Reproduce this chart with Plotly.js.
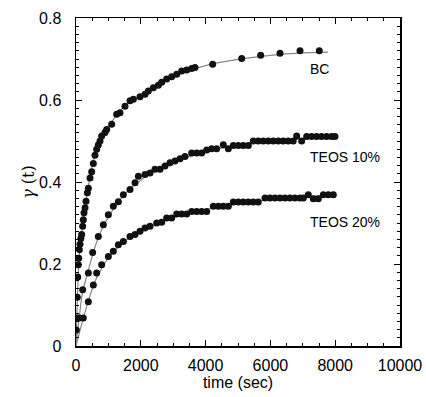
<!DOCTYPE html>
<html>
<head>
<meta charset="utf-8">
<script src="https://cdn.plot.ly/plotly-3.0.1.min.js"></script>
<style>html,body{margin:0;padding:0;background:#fff;}#chart{width:426px;height:397px;}</style>
</head>
<body>
<div id="chart"></div>
<script>
// ---- data ----
const bcTime = [10, 25, 40, 55, 72, 85, 103, 123, 150, 175, 206, 226, 247, 278, 309, 350, 381, 432, 484, 535, 586, 638, 689, 741, 792, 895, 947, 1101, 1255, 1358, 1512, 1667, 1770, 1975, 2130, 2233, 2387, 2541, 2644, 2798, 2952, 3107, 3261, 3416, 3570, 3673, 4218, 5114, 5700, 6296, 6914, 7509];
const bcGamma = [0.039, 0.068, 0.119, 0.168, 0.198, 0.214, 0.235, 0.248, 0.262, 0.272, 0.292, 0.308, 0.325, 0.337, 0.353, 0.374, 0.385, 0.410, 0.425, 0.445, 0.465, 0.480, 0.490, 0.500, 0.512, 0.521, 0.528, 0.541, 0.565, 0.569, 0.585, 0.598, 0.602, 0.608, 0.614, 0.622, 0.630, 0.636, 0.643, 0.651, 0.657, 0.663, 0.671, 0.673, 0.677, 0.679, 0.687, 0.701, 0.709, 0.714, 0.720, 0.720];

const t10Time = [100, 206, 381, 514, 689, 844, 998, 1152, 1307, 1461, 1667, 1821, 1924, 2130, 2284, 2438, 2593, 2747, 2901, 3056, 3210, 3364, 3570, 3725, 3879, 4033, 4187, 4341, 4547, 4702, 4856, 5010, 5164, 5318, 5472, 5626, 5780, 5934, 6088, 6242, 6396, 6550, 6704, 6811, 6965, 7119, 7273, 7427, 7581, 7735, 7889, 7994];
const t10Gamma = [0.068, 0.137, 0.178, 0.228, 0.267, 0.296, 0.320, 0.341, 0.352, 0.369, 0.382, 0.398, 0.414, 0.418, 0.422, 0.431, 0.431, 0.439, 0.447, 0.451, 0.457, 0.462, 0.471, 0.471, 0.471, 0.478, 0.481, 0.481, 0.491, 0.481, 0.489, 0.489, 0.489, 0.489, 0.500, 0.500, 0.500, 0.500, 0.500, 0.500, 0.500, 0.500, 0.500, 0.512, 0.500, 0.511, 0.511, 0.511, 0.511, 0.511, 0.511, 0.511];

const t20Time = [226, 381, 535, 638, 792, 998, 1152, 1307, 1461, 1667, 1821, 1975, 2130, 2284, 2490, 2644, 2798, 2952, 3107, 3261, 3416, 3570, 3725, 3879, 4033, 4239, 4393, 4547, 4702, 4856, 5010, 5164, 5318, 5472, 5626, 5833, 5987, 6141, 6295, 6449, 6603, 6757, 6911, 7016, 7170, 7325, 7478, 7633, 7788, 7942];
const t20Gamma = [0.068, 0.108, 0.149, 0.178, 0.198, 0.218, 0.231, 0.247, 0.255, 0.267, 0.272, 0.280, 0.288, 0.292, 0.300, 0.302, 0.312, 0.312, 0.322, 0.322, 0.322, 0.328, 0.328, 0.328, 0.328, 0.341, 0.341, 0.341, 0.341, 0.351, 0.351, 0.351, 0.351, 0.351, 0.351, 0.361, 0.361, 0.361, 0.361, 0.361, 0.361, 0.361, 0.361, 0.361, 0.369, 0.359, 0.359, 0.369, 0.369, 0.369];

// fitted curves
const bcFitTime = [0, 25, 50, 100, 200, 300, 500, 750, 1000, 1500, 2000, 2500, 3000, 4000, 5000, 6000, 7000, 7780];
const bcFitGamma = [0, 0.07, 0.13, 0.22, 0.29, 0.35, 0.44, 0.50, 0.535, 0.585, 0.612, 0.636, 0.657, 0.684, 0.699, 0.709, 0.715, 0.717];
const t10FitTime = [0, 100, 200, 400, 600, 800, 1000, 1500, 2000, 2500, 3000, 4000, 5000, 6000, 7000, 8000];
const t10FitGamma = [0, 0.07, 0.13, 0.19, 0.245, 0.285, 0.315, 0.37, 0.405, 0.43, 0.448, 0.474, 0.490, 0.500, 0.506, 0.510];
const t20FitTime = [0, 200, 400, 600, 800, 1000, 1500, 2000, 2500, 3000, 4000, 5000, 6000, 7000, 8000];
const t20FitGamma = [0, 0.06, 0.115, 0.16, 0.19, 0.215, 0.255, 0.28, 0.298, 0.313, 0.333, 0.347, 0.357, 0.364, 0.368];

const seriesLabels = ["BC", "TEOS 10%", "TEOS 20%"];
const labelTime = [7160, 7160, 7160];
const labelGamma = [0.675, 0.46, 0.303];

const xTickVals = [0, 2000, 4000, 6000, 8000, 10000];
const xTickText = ['0', '2000', '4000', '6000', '8000', '10000'];
const yTickVals = [0, 0.2, 0.4, 0.6, 0.8];
const yTickText = ['0', '0.2', '0.4', '0.6', '0.8'];

const fitStyle = {color: '#888', width: 1.2, shape: 'spline', smoothing: 0.8};
const markerStyle = {color: '#111', size: 7, symbol: 'circle'};

const traces = [
  {x: bcFitTime, y: bcFitGamma, mode: 'lines', line: fitStyle},
  {x: t10FitTime, y: t10FitGamma, mode: 'lines', line: fitStyle},
  {x: t20FitTime, y: t20FitGamma, mode: 'lines', line: fitStyle},
  {x: bcTime, y: bcGamma, mode: 'markers', marker: markerStyle},
  {x: t10Time, y: t10Gamma, mode: 'markers', marker: markerStyle},
  {x: t20Time, y: t20Gamma, mode: 'markers', marker: markerStyle}
];

const fontFam = 'Liberation Sans, Arial, sans-serif';
const layout = {
  width: 426, height: 397,
  margin: {l: 76, r: 26, t: 18, b: 51},
  paper_bgcolor: '#fff', plot_bgcolor: '#fff',
  showlegend: false,
  font: {family: fontFam, color: '#000', size: 16},
  xaxis: {
    range: [0, 10000], tickvals: xTickVals, ticktext: xTickText,
    ticks: 'inside', ticklen: 6, tickcolor: '#000', tickwidth: 1,
    minor: {dtick: 500, ticks: 'inside', ticklen: 3, tickcolor: '#000'},
    showline: true, linecolor: '#000', linewidth: 1.5, mirror: 'allticks',
    showgrid: false, zeroline: false,
    tickfont: {size: 16}, ticklabelstandoff: 4,
    title: {text: 'time (sec)', font: {size: 16}, standoff: 2}
  },
  yaxis: {
    range: [0, 0.8], tickvals: yTickVals, ticktext: yTickText,
    ticks: 'inside', ticklen: 6, tickcolor: '#000', tickwidth: 1,
    minor: {dtick: 0.02, ticks: 'inside', ticklen: 3, tickcolor: '#000'},
    showline: true, linecolor: '#000', linewidth: 1.5, mirror: 'allticks',
    showgrid: false, zeroline: false,
    tickfont: {size: 16}, ticklabelstandoff: 10,
    title: {text: '<i>γ</i> (t)', font: {size: 16, family: 'DejaVu Serif, serif'}, standoff: 0}
  },
  annotations: seriesLabels.map((s, i) => ({
    x: labelTime[i], y: labelGamma[i], text: s, showarrow: false,
    xanchor: 'left', yanchor: 'middle', font: {size: 14, family: fontFam, color: '#000'}
  }))
};

Plotly.newPlot('chart', traces, layout, {displayModeBar: false, staticPlot: true});
</script>
</body>
</html>
